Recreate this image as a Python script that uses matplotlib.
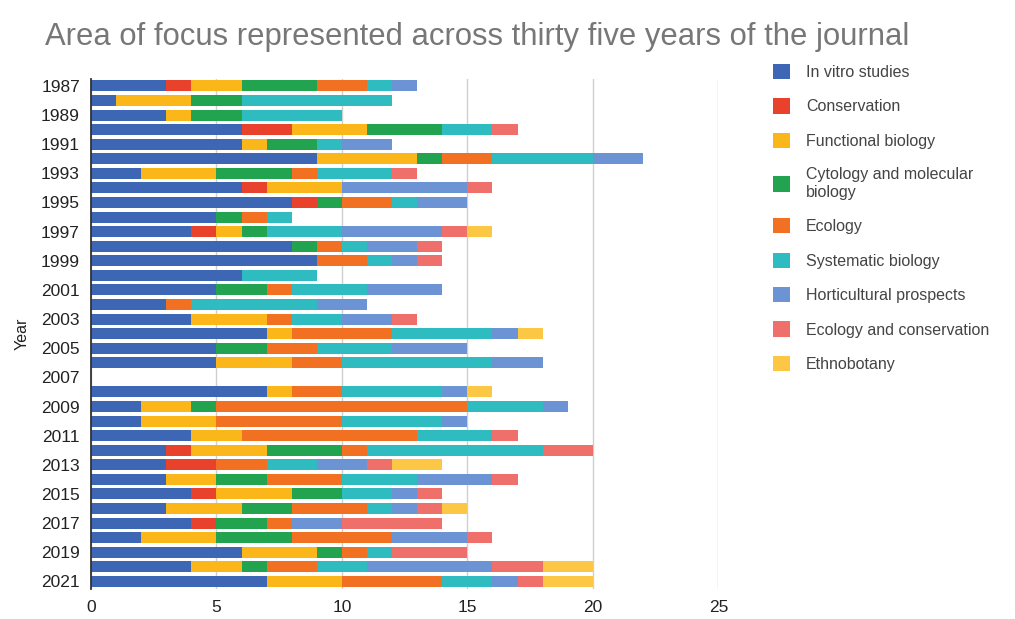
import matplotlib.pyplot as plt
import numpy as np

plt.rcParams['font.family'] = ['Liberation Sans', 'DejaVu Sans']

years = list(range(1987, 2022))

categories = ['In vitro studies', 'Conservation', 'Functional biology',
              'Cytology and molecular\nbiology', 'Ecology', 'Systematic biology',
              'Horticultural prospects', 'Ecology and conservation', 'Ethnobotany']

in_vitro = [3, 1, 3, 6, 6, 9, 2, 6, 8, 5, 4, 8, 9, 6, 5, 3, 4, 7, 5, 5, 0, 7,
            2, 2, 4, 3, 3, 3, 4, 3, 4, 2, 6, 4, 7]
conservation = [1, 0, 0, 2, 0, 0, 0, 1, 1, 0, 1, 0, 0, 0, 0, 0, 0, 0, 0, 0, 0, 0,
                0, 0, 0, 1, 2, 0, 1, 0, 1, 0, 0, 0, 0]
functional = [2, 3, 1, 3, 1, 4, 3, 3, 0, 0, 1, 0, 0, 0, 0, 0, 3, 1, 0, 3, 0, 1,
              2, 3, 2, 3, 0, 2, 3, 3, 0, 3, 3, 2, 3]
cytology = [3, 2, 2, 3, 2, 1, 3, 0, 1, 1, 1, 1, 0, 0, 2, 0, 0, 0, 2, 0, 0, 0,
            1, 0, 0, 3, 0, 2, 2, 2, 2, 3, 1, 1, 0]
ecology = [2, 0, 0, 0, 0, 2, 1, 0, 2, 1, 0, 1, 2, 0, 1, 1, 1, 4, 2, 2, 0, 2,
           10, 5, 7, 1, 2, 3, 0, 3, 1, 4, 1, 2, 4]
systematic = [1, 6, 4, 2, 1, 4, 3, 0, 1, 1, 3, 1, 1, 3, 3, 5, 2, 4, 3, 6, 0, 4,
              3, 4, 3, 7, 2, 3, 2, 1, 0, 0, 1, 2, 2]
horticultural = [1, 0, 0, 0, 2, 2, 0, 5, 2, 0, 4, 2, 1, 0, 3, 2, 2, 1, 3, 2, 0, 1,
                 1, 1, 0, 0, 2, 3, 1, 1, 2, 3, 0, 5, 1]
ecology_conservation = [0, 0, 0, 1, 0, 0, 1, 1, 0, 0, 1, 1, 1, 0, 0, 0, 1, 0, 0, 0, 0, 0,
                        0, 0, 1, 2, 1, 1, 1, 1, 4, 1, 3, 2, 1]
ethnobotany = [0, 0, 0, 0, 0, 0, 0, 0, 0, 0, 1, 0, 0, 0, 0, 0, 0, 1, 0, 0, 0, 1,
               0, 0, 0, 0, 2, 0, 0, 1, 0, 0, 0, 2, 2]

series = [in_vitro, conservation, functional, cytology, ecology, systematic,
          horticultural, ecology_conservation, ethnobotany]
colors = ['#3d66b5', '#e8412c', '#fbb719', '#22a34f', '#f27022', '#2fbcc0',
          '#6c94d4', '#ef706a', '#fcc744']

fig = plt.figure(figsize=(10.15, 6.19), dpi=100)
ax = fig.add_axes([0.0897, 0.049, 0.618, 0.824])

y = np.arange(len(years))
left = np.zeros(len(years))
handles = []
for vals, col, name in zip(series, colors, categories):
    vals = np.array(vals, dtype=float)
    h = ax.barh(y, vals, left=left, height=0.76, color=col, label=name, linewidth=0)
    handles.append(h)
    left += vals

ax.set_ylim(len(years) - 0.5, -0.5)
ax.set_xlim(0, 25)
ax.set_xticks([0, 5, 10, 15, 20, 25])
ax.set_yticks(y[::2])
ax.set_yticklabels([str(yr) for yr in years[::2]])
ax.tick_params(axis='both', length=0, labelsize=12.5, colors='#222222')
ax.tick_params(axis='x', pad=8)
ax.tick_params(axis='y', pad=8)

ax.grid(axis='x', color='#cfcfcf', linewidth=1)
ax.set_axisbelow(True)
for side in ['top', 'right', 'bottom']:
    ax.spines[side].set_visible(False)
ax.spines['left'].set_color('#333333')
ax.spines['left'].set_linewidth(1.3)

ax.set_ylabel('Year', fontsize=11.5, color='#222222', labelpad=8)

fig.text(0.044, 0.94, 'Area of focus represented across thirty five years of the journal',
         fontsize=22.3, color='#777777', va='center', ha='left')

fig.legend(handles=handles, labels=categories, loc='upper left',
           bbox_to_anchor=(0.747, 0.92), frameon=False, fontsize=11.5,
           handlelength=1.1, handleheight=1.1, handletextpad=1.0,
           labelspacing=1.15, labelcolor='#444444')

fig.savefig('out.png', dpi=100)
